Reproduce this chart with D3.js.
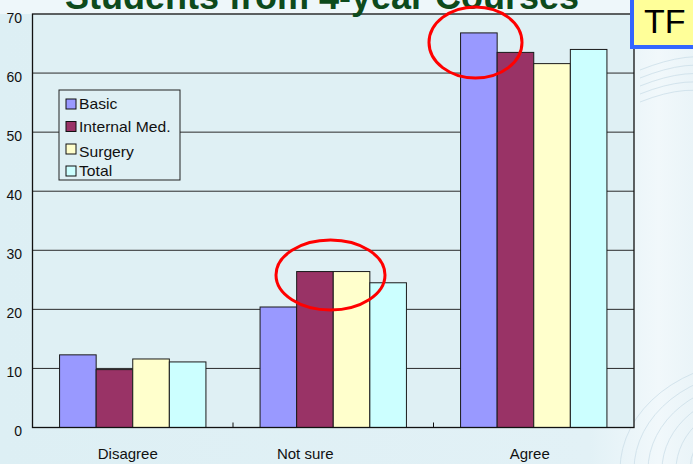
<!DOCTYPE html>
<html>
<head>
<meta charset="utf-8">
<script src="https://cdn.jsdelivr.net/npm/d3@7"></script>
<style>
  body { margin: 0; background: #e4f2f6; }
  svg { display: block; font-family: Arial, "Liberation Sans", sans-serif; }
</style>
</head>
<body>
<script>
// chart data
var categories = ["Disagree", "Not sure", "Agree"];
var seriesNames = ["Basic", "Internal Med.", "Surgery", "Total"];
var basic = [12.3, 20.4, 66.8];
var internalMed = [9.8, 26.4, 63.5];
var surgery = [11.6, 26.4, 61.6];
var total = [11.1, 24.5, 64.0];
var yTicks = [0, 10, 20, 30, 40, 50, 60, 70];

// layout
var width = 693, height = 464;
var plot = {left: 32.5, right: 634, top: 14, bottom: 427.5};
var colors = ["#9999ff", "#993366", "#ffffcc", "#ccffff"];
var labelNudge = {"Disagree": -5, "Not sure": -28, "Agree": -4};

var svg = d3.select("body").append("svg")
  .attr("width", width)
  .attr("height", height);

// slide background
var defs = svg.append("defs");
var grad = defs.append("linearGradient")
  .attr("id", "slideBg")
  .attr("x1", "0").attr("y1", "0").attr("x2", "1").attr("y2", "0");
grad.append("stop").attr("offset", "0").attr("stop-color", "#ddeff4");
grad.append("stop").attr("offset", "0.85").attr("stop-color", "#e2f1f6");
grad.append("stop").attr("offset", "0.95").attr("stop-color", "#f1f8fb");
grad.append("stop").attr("offset", "1").attr("stop-color", "#eaf4f8");
svg.append("rect")
  .attr("width", width).attr("height", height)
  .attr("fill", "url(#slideBg)");
svg.append("rect")
  .attr("width", width).attr("height", plot.top)
  .attr("fill", "#eef7fa");

// faint globe arcs on the right side
var arcs = svg.append("g").attr("stroke", "#c9dde8").attr("fill", "none").attr("opacity", 0.7);
d3.range(6).forEach(function(i){
  arcs.append("ellipse")
    .attr("cx", 760).attr("cy", 470)
    .attr("rx", 70 + i * 14).attr("ry", 60 + i * 10);
});
d3.range(5).forEach(function(i){
  arcs.append("path")
    .attr("d", "M640," + (70 + i * 8) + " Q690," + (50 + i * 8) + " 720," + (60 + i * 9));
});

// scales
var x0 = d3.scaleBand()
  .domain(categories)
  .range([plot.left, plot.right])
  .padding(0);

var groupWidth = x0.bandwidth() * 0.73;
var x1 = d3.scaleBand()
  .domain(seriesNames)
  .range([0, groupWidth])
  .padding(0);

var y = d3.scaleLinear()
  .domain([0, 70])
  .range([plot.bottom, plot.top]);

// plot area
svg.append("rect")
  .attr("x", plot.left).attr("y", plot.top)
  .attr("width", plot.right - plot.left)
  .attr("height", plot.bottom - plot.top)
  .attr("fill", "#dff0f4");

// gridlines
svg.append("g")
  .selectAll("line")
  .data(yTicks.filter(function(d){ return d > 0 && d < 70; }))
  .enter()
  .append("line")
  .attr("x1", plot.left).attr("x2", plot.right)
  .attr("y1", function(d){ return y(d); })
  .attr("y2", function(d){ return y(d); })
  .attr("stroke", "#2a2a2a")
  .attr("stroke-width", 1);

// bars
var seriesValues = [basic, internalMed, surgery, total];
var rows = [];
categories.forEach(function(cat, ci){
  seriesNames.forEach(function(name, si){
    rows.push({cat: cat, name: name, value: seriesValues[si][ci], color: colors[si]});
  });
});

svg.append("g")
  .selectAll("rect")
  .data(rows)
  .enter()
  .append("rect")
  .attr("x", function(d){ return x0(d.cat) + (x0.bandwidth() - groupWidth) / 2 + x1(d.name); })
  .attr("y", function(d){ return y(d.value); })
  .attr("width", x1.bandwidth())
  .attr("height", function(d){ return y(0) - y(d.value); })
  .attr("fill", function(d){ return d.color; })
  .attr("stroke", "#1a1a1a")
  .attr("stroke-width", 1);

// plot frame
svg.append("rect")
  .attr("x", plot.left).attr("y", plot.top)
  .attr("width", plot.right - plot.left)
  .attr("height", plot.bottom - plot.top)
  .attr("fill", "none")
  .attr("stroke", "#111")
  .attr("stroke-width", 1.3);

// x axis tick marks between categories
svg.append("g")
  .selectAll("line")
  .data(categories.slice(1))
  .enter()
  .append("line")
  .attr("x1", function(d){ return x0(d); })
  .attr("x2", function(d){ return x0(d); })
  .attr("y1", plot.bottom)
  .attr("y2", plot.bottom - 5)
  .attr("stroke", "#111");

// y labels
svg.append("g")
  .selectAll("text")
  .data(yTicks)
  .enter()
  .append("text")
  .attr("x", 22)
  .attr("y", function(d){ return y(d) + 8.5; })
  .attr("text-anchor", "end")
  .attr("font-size", 14)
  .attr("fill", "#111")
  .text(function(d){ return d; });

// x labels
svg.append("g")
  .selectAll("text")
  .data(categories)
  .enter()
  .append("text")
  .attr("x", function(d){ return x0(d) + x0.bandwidth() / 2 + labelNudge[d]; })
  .attr("y", 459)
  .attr("text-anchor", "middle")
  .attr("font-size", 15)
  .attr("fill", "#111")
  .text(function(d){ return d; });

// legend
var legend = svg.append("g").attr("transform", "translate(59,90)");
legend.append("rect")
  .attr("width", 121).attr("height", 90)
  .attr("fill", "#dff0f4")
  .attr("stroke", "#222")
  .attr("stroke-width", 1);
var legendY = [9, 31.5, 54, 76];
var item = legend.selectAll(".item")
  .data(seriesNames)
  .enter()
  .append("g")
  .attr("class", "item")
  .attr("transform", function(d, i){ return "translate(7," + legendY[i] + ")"; });
item.append("rect")
  .attr("width", 10).attr("height", 10)
  .attr("fill", function(d, i){ return colors[i]; })
  .attr("stroke", "#111");
item.append("text")
  .attr("transform", function(d, i){ return "translate(13," + (i === 2 ? 13 : 10) + ") scale(1.12,1)"; })
  .attr("font-size", 14)
  .attr("fill", "#111")
  .text(function(d){ return d; });

// title, cut by the slide top
svg.append("text")
  .attr("x", 322)
  .attr("y", 9)
  .attr("text-anchor", "middle")
  .attr("font-size", 36)
  .attr("font-weight", "bold")
  .attr("fill", "#0d4a1c")
  .text("Students from 4-year Courses");

// highlight ellipses
svg.append("ellipse")
  .attr("cx", 475.5).attr("cy", 42.5).attr("rx", 46.5).attr("ry", 35.5)
  .attr("fill", "none").attr("stroke", "#ff0000").attr("stroke-width", 3);
svg.append("ellipse")
  .attr("cx", 330.5).attr("cy", 275).attr("rx", 54.5).attr("ry", 35)
  .attr("fill", "none").attr("stroke", "#ff0000").attr("stroke-width", 3);

// TF tag
svg.append("rect")
  .attr("x", 632).attr("y", -10)
  .attr("width", 80).attr("height", 57)
  .attr("fill", "#ffff99")
  .attr("stroke", "#3366ff")
  .attr("stroke-width", 4);
svg.append("text")
  .attr("x", 644)
  .attr("y", 33)
  .attr("font-size", 34)
  .attr("fill", "#000")
  .text("TF");
</script>
</body>
</html>
